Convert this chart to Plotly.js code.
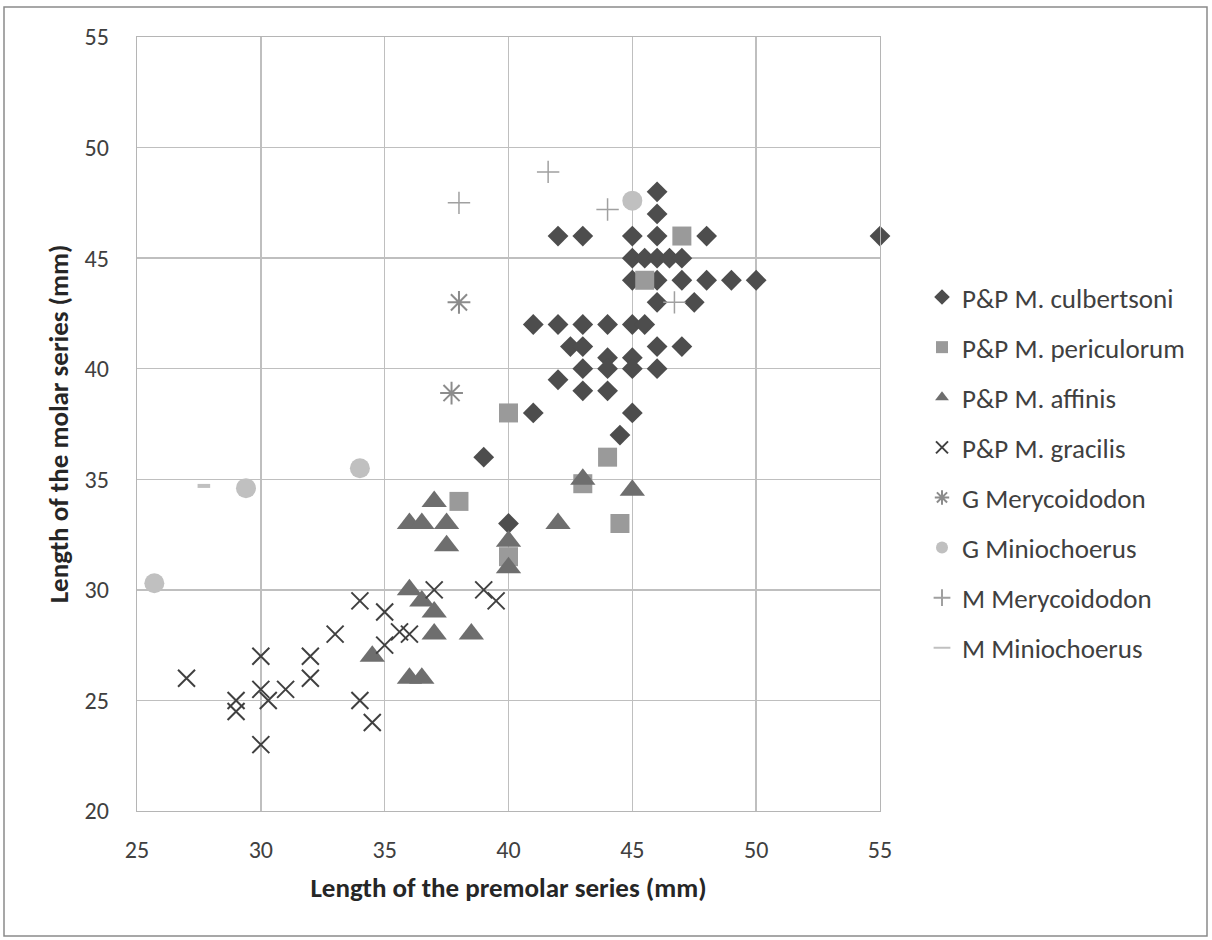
<!DOCTYPE html>
<html>
<head>
<meta charset="utf-8">
<script src="https://cdn.plot.ly/plotly-3.0.1.min.js"></script>
<style>
  html, body { margin: 0; padding: 0; background: #ffffff; }
  #chart { width: 1212px; height: 940px; }
</style>
</head>
<body>
<div id="chart"></div>
<script>
// ---- Data ----
const seriesNames = [
  "P&P M. culbertsoni", "P&P M. periculorum", "P&P M. affinis", "P&P M. gracilis",
  "G Merycoidodon", "G Miniochoerus", "M Merycoidodon", "M Miniochoerus"
];

const culbX = [46, 46, 42, 43, 45, 46, 48, 55,
               45, 45.5, 46, 46.5, 47,
               45, 46, 47, 48, 49, 50,
               46, 47.5,
               41, 42, 43, 44, 45, 45.5,
               42.5, 43, 46, 47,
               44, 45,
               43, 44, 45, 46,
               42,
               43, 44,
               41, 45,
               44.5, 39, 40];
const culbY = [48, 47, 46, 46, 46, 46, 46, 46,
               45, 45, 45, 45, 45,
               44, 44, 44, 44, 44, 44,
               43, 43,
               42, 42, 42, 42, 42, 42,
               41, 41, 41, 41,
               40.5, 40.5,
               40, 40, 40, 40,
               39.5,
               39, 39,
               38, 38,
               37, 36, 33];

const periX = [47, 45.5, 40, 44, 43, 38, 44.5, 40];
const periY = [46, 44, 38, 36, 34.8, 34, 33, 31.5];

const affX = [43, 45, 37, 36, 36.5, 37.5, 37.5, 40, 40, 42, 36, 36.5, 37, 37, 38.5, 34.5, 36, 36.5];
const affY = [35, 34.5, 34, 33, 33, 33, 32, 32.2, 31, 33, 30, 29.5, 29, 28, 28, 27, 26, 26];

const gracX = [27, 29, 29, 30, 30, 30.3, 31, 30, 32, 32, 33, 34, 34, 34.5, 35, 35, 35.6, 36, 37, 39, 39.5];
const gracY = [26, 25, 24.5, 27, 25.5, 25, 25.5, 23, 27, 26, 28, 29.5, 25, 24, 29, 27.5, 28.1, 28, 30, 30, 29.5];

const gMeryX = [38, 37.7];
const gMeryY = [43, 38.9];

const gMiniX = [25.7, 29.4, 34, 45];
const gMiniY = [30.3, 34.6, 35.5, 47.6];

const mMeryX = [38, 41.6, 44, 46.7];
const mMeryY = [47.5, 48.9, 47.2, 43];

const mMiniX = [27.7];
const mMiniY = [34.7];

const xTicks = [25, 30, 35, 40, 45, 50, 55];
const yTicks = [20, 25, 30, 35, 40, 45, 50, 55];

// ---- Traces ----
const FONT = "Carlito, Calibri, Lato, 'Open Sans', sans-serif";
function mk(name, xs, ys, marker, grp) {
  return { type: "scatter", mode: "markers", name: name, x: xs, y: ys,
           marker: marker, cliponaxis: false, legendgroup: grp, hoverinfo: "x+y+name" };
}
const traces = [
  mk(seriesNames[0], culbX, culbY, { symbol: "diamond", size: 16, color: "#4d4d4d" }, "g1"),
  mk(seriesNames[1], periX, periY, { symbol: "square", size: 19, color: "#9a9a9a" }, "g2"),
  mk(seriesNames[2], affX, affY, { symbol: "triangle-up", size: 22, color: "#6e6e6e" }, "g3"),
  mk(seriesNames[3], gracX, gracY, { symbol: "x-thin-open", size: 17, color: "#404040", line: { color: "#404040", width: 2 } }, "g4"),
  mk(seriesNames[4], gMeryX, gMeryY, { symbol: "asterisk-open", size: 19, color: "#8c8c8c", line: { color: "#8c8c8c", width: 2 } }, "g5"),
  mk(seriesNames[5], gMiniX, gMiniY, { symbol: "circle", size: 20, color: "#c0c0c0" }, "g6"),
  mk(seriesNames[6], mMeryX, mMeryY, { symbol: "cross-thin-open", size: 16, color: "#a0a0a0", line: { color: "#a0a0a0", width: 1.5 } }, "g7"),
  mk(seriesNames[7], mMiniX, mMiniY, { symbol: "line-ew-open", size: 9, color: "#c0c0c0", line: { color: "#c0c0c0", width: 4 } }, "g8")
];

// ---- Layout ----
const L = 137, R = 332, T = 37, B = 129, W = 1212, H = 940;
const pw = W - L - R, ph = H - T - B;
const px2x = p => (p - L) / pw;
const py2y = p => (H - B - p) / ph;

const layout = {
  width: W, height: H,
  margin: { l: L, r: R, t: T, b: B, pad: 0 },
  paper_bgcolor: "#ffffff", plot_bgcolor: "#ffffff",
  font: { family: FONT, color: "#404040", size: 24 },
  showlegend: true,
  legend: {
    x: px2x(922), xanchor: "left", y: py2y(273), yanchor: "top",
    font: { family: FONT, size: 27, color: "#404040" },
    itemsizing: "constant",
    tracegroupgap: 12, bgcolor: "rgba(0,0,0,0)", borderwidth: 0
  },
  xaxis: {
    range: [25, 55], tickmode: "array", tickvals: xTicks, ticktext: xTicks.map(String),
    showgrid: true, gridcolor: "#bfbfbf", gridwidth: 1.4, zeroline: false,
    showline: true, linecolor: "#b5b5b5", linewidth: 1.4, mirror: true,
    ticks: "", ticklabelstandoff: 17,
    tickfont: { family: FONT, size: 24, color: "#404040" },
    title: { text: "<b>Length of the premolar series (mm)</b>", standoff: 15,
             font: { family: FONT, size: 27, color: "#262626" } },
    automargin: false
  },
  yaxis: {
    range: [20, 55], tickmode: "array", tickvals: yTicks, ticktext: yTicks.map(String),
    showgrid: true, gridcolor: "#bfbfbf", gridwidth: 1.4, zeroline: false,
    showline: true, linecolor: "#b5b5b5", linewidth: 1.4, mirror: true,
    ticks: "", ticklabelstandoff: 22,
    tickfont: { family: FONT, size: 24, color: "#404040" },
    title: { text: "<b>Length of the molar series (mm)</b>", standoff: 8,
             font: { family: FONT, size: 27, color: "#262626" } },
    automargin: false
  },
  shapes: [{
    type: "rect", xref: "paper", yref: "paper",
    x0: px2x(4), x1: px2x(1207), y0: py2y(936), y1: py2y(7),
    line: { color: "#8a8a8a", width: 1.5 }, fillcolor: "rgba(0,0,0,0)", layer: "below"
  }]
};

Plotly.newPlot("chart", traces, layout, { displayModeBar: false, staticPlot: true });
</script>
</body>
</html>
